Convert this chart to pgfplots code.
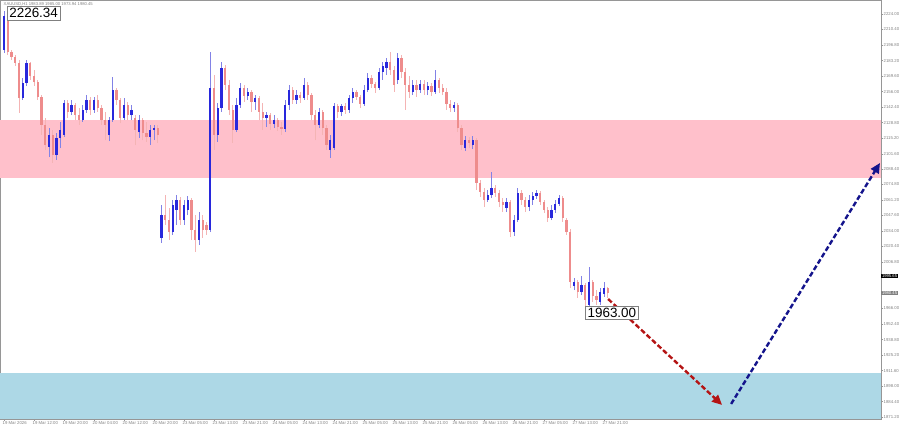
\documentclass[border=0pt]{standalone}
\usepackage{fontspec}
\setmainfont{Liberation Sans}
\usepackage{pgfplots}
\usepackage{pgfplotstable}
\pgfplotsset{compat=1.18}
\usetikzlibrary{arrows.meta}
\definecolor{upbody}{RGB}{40,40,220}
\definecolor{upwick}{RGB}{130,130,230}
\definecolor{dnbody}{RGB}{238,140,140}
\definecolor{dnwick}{RGB}{244,180,180}
\definecolor{zonepink}{RGB}{255,192,203}
\definecolor{zoneblue}{RGB}{173,216,230}
\definecolor{arrred}{RGB}{180,20,20}
\definecolor{arrblue}{RGB}{20,20,140}
\definecolor{axgray}{RGB}{150,150,150}

\pgfplotstableread{
i o h l c
0 2192.5 2226.34 2189.8 2222.2
5 2150.4 2167.9 2148.7 2163.6
6 2163.6 2183.7 2160.9 2181.1
12 2107.5 2124.1 2098.7 2118.0
14 2100.5 2119.8 2096.1 2115.4
15 2115.4 2129.4 2106.6 2122.4
16 2118.0 2148.7 2116.3 2146.0
18 2138.2 2148.7 2135.5 2144.3
21 2131.1 2144.3 2129.4 2139.9
22 2139.9 2153.0 2137.3 2148.7
24 2139.9 2151.3 2137.3 2148.7
28 2118.0 2133.8 2112.7 2131.1
29 2131.1 2168.8 2129.4 2157.4
32 2132.9 2150.4 2131.1 2144.3
34 2135.5 2144.3 2131.1 2139.9
36 2120.6 2135.5 2115.4 2131.1
39 2116.3 2126.8 2109.2 2122.4
40 2122.4 2126.8 2113.6 2124.1
42 2027.8 2056.7 2023.4 2047.9
45 2033.0 2061.1 2030.4 2056.7
46 2052.3 2065.4 2039.2 2061.1
48 2043.5 2061.1 2039.2 2056.7
49 2052.3 2064.6 2047.9 2061.1
52 2026.0 2050.5 2021.6 2043.5
55 2034.8 2190.7 2033.0 2159.2
57 2118.0 2146.0 2111.9 2141.7
58 2141.7 2182.0 2138.2 2176.7
62 2122.4 2150.4 2120.6 2144.3
63 2144.3 2163.6 2141.7 2159.2
65 2152.2 2159.2 2148.7 2155.7
67 2146.9 2153.0 2139.9 2150.4
70 2132.9 2138.2 2125.0 2135.5
72 2127.6 2135.5 2124.1 2131.1
75 2123.3 2148.7 2120.6 2144.3
76 2144.3 2161.8 2139.9 2157.4
78 2148.7 2157.4 2145.2 2153.0
80 2150.4 2167.9 2148.7 2161.8
84 2126.8 2141.7 2124.1 2138.2
87 2104.9 2118.0 2097.9 2113.6
88 2106.6 2146.0 2104.9 2143.4
90 2138.2 2145.2 2134.6 2143.4
92 2139.9 2153.0 2137.3 2150.4
93 2150.4 2159.2 2146.0 2155.7
96 2145.2 2161.8 2143.4 2157.4
97 2157.4 2172.3 2155.7 2167.9
100 2159.2 2176.7 2157.4 2173.2
101 2173.2 2182.0 2166.2 2178.4
102 2176.7 2185.5 2170.6 2182.0
105 2166.2 2189.8 2162.7 2185.5
109 2155.7 2166.2 2153.0 2161.8
111 2157.4 2166.2 2154.8 2162.7
113 2157.4 2164.4 2153.0 2160.9
115 2155.7 2174.9 2153.9 2166.2
120 2141.7 2146.9 2138.2 2144.3
123 2106.6 2117.1 2104.0 2113.6
125 2109.2 2117.1 2105.7 2113.6
129 2061.1 2069.8 2059.3 2065.4
130 2065.4 2085.6 2062.8 2071.6
134 2054.1 2062.8 2050.5 2059.3
136 2033.0 2047.9 2029.5 2043.5
137 2043.5 2071.6 2041.8 2067.2
140 2054.9 2065.4 2051.4 2061.1
141 2061.1 2068.1 2056.7 2064.6
142 2064.6 2069.8 2061.9 2067.2
146 2045.3 2056.7 2043.5 2052.3
147 2052.3 2061.1 2049.7 2057.6
148 2057.6 2065.4 2055.8 2062.8
152 1985.7 1992.7 1982.2 1989.2
154 1980.5 1994.5 1977.8 1986.6
156 1969.1 2002.4 1966.4 1989.2
159 1971.7 1984.0 1969.1 1980.5
160 1978.7 1989.2 1976.1 1984.0
}\upbars

\pgfplotstableread{
i o h l c
1 2220.5 2223.1 2188.1 2190.7
2 2190.7 2192.5 2183.7 2186.3
3 2186.3 2188.1 2178.4 2181.1
4 2181.1 2183.7 2137.3 2150.4
7 2181.1 2182.0 2166.2 2169.7
8 2169.7 2174.9 2160.9 2164.4
9 2164.4 2166.2 2148.7 2151.3
10 2151.3 2153.0 2118.0 2126.8
11 2126.8 2132.9 2104.9 2109.2
13 2118.0 2122.4 2093.5 2100.5
17 2146.0 2148.7 2132.9 2138.2
19 2144.3 2146.0 2131.1 2135.5
20 2135.5 2141.7 2126.8 2131.1
23 2148.7 2151.3 2135.5 2139.9
25 2148.7 2153.0 2138.2 2141.7
26 2141.7 2144.3 2126.8 2131.1
27 2131.1 2138.2 2113.6 2126.8
30 2157.4 2159.2 2144.3 2148.7
31 2148.7 2150.4 2128.5 2132.9
33 2144.3 2146.9 2131.1 2135.5
35 2132.9 2135.5 2109.2 2122.4
37 2131.1 2132.9 2113.6 2119.8
38 2119.8 2129.4 2111.9 2116.3
41 2124.1 2126.8 2111.0 2118.0
43 2047.9 2065.4 2039.2 2043.5
44 2043.5 2054.1 2026.0 2033.0
47 2061.1 2063.7 2039.2 2043.5
50 2061.1 2062.8 2026.0 2034.8
51 2034.8 2047.9 2015.5 2026.0
53 2043.5 2047.9 2027.8 2034.8
54 2039.2 2041.8 2030.4 2034.8
56 2159.2 2170.6 2104.9 2118.0
59 2176.7 2179.3 2157.4 2161.8
60 2161.8 2166.2 2135.5 2139.9
61 2139.9 2144.3 2111.0 2122.4
64 2159.2 2161.8 2146.9 2152.2
66 2155.7 2157.4 2138.2 2146.9
68 2150.4 2152.2 2131.1 2138.2
69 2138.2 2146.0 2122.4 2132.9
71 2135.5 2137.3 2122.4 2127.6
73 2131.1 2132.9 2121.5 2125.0
74 2125.0 2129.4 2118.0 2123.3
77 2157.4 2160.0 2145.2 2148.7
79 2153.0 2155.7 2146.0 2150.4
81 2161.8 2164.4 2148.7 2153.0
82 2153.0 2154.8 2131.1 2135.5
83 2135.5 2139.9 2113.6 2126.8
85 2138.2 2139.9 2118.0 2124.1
86 2124.1 2126.8 2104.9 2109.2
89 2143.4 2145.2 2132.9 2138.2
91 2143.4 2146.0 2136.4 2139.9
94 2155.7 2157.4 2148.7 2151.3
95 2151.3 2153.0 2141.7 2145.2
98 2167.9 2170.6 2159.2 2162.7
99 2162.7 2164.4 2154.8 2159.2
103 2182.0 2190.7 2170.6 2174.9
104 2174.9 2178.4 2155.7 2161.8
106 2185.5 2188.1 2167.9 2173.2
107 2173.2 2176.7 2139.9 2161.8
108 2161.8 2169.7 2150.4 2155.7
110 2161.8 2166.2 2151.3 2157.4
112 2162.7 2166.2 2153.0 2157.4
114 2160.9 2163.6 2152.2 2155.7
116 2166.2 2167.9 2154.8 2159.2
117 2159.2 2162.7 2153.0 2155.7
118 2155.7 2159.2 2139.9 2145.2
119 2145.2 2148.7 2138.2 2141.7
121 2144.3 2146.0 2120.6 2124.1
122 2124.1 2126.8 2104.9 2109.2
124 2113.6 2116.3 2106.6 2111.0
126 2113.6 2115.4 2069.8 2076.0
127 2076.0 2078.6 2063.7 2068.1
128 2068.1 2071.6 2054.9 2061.1
131 2071.6 2074.2 2063.7 2067.2
132 2067.2 2069.8 2054.9 2059.3
133 2059.3 2062.8 2050.5 2056.7
135 2059.3 2061.1 2028.6 2033.0
138 2067.2 2069.8 2056.7 2061.1
139 2061.1 2063.7 2050.5 2054.9
143 2067.2 2068.9 2056.7 2059.3
144 2059.3 2061.1 2049.7 2052.3
145 2052.3 2054.9 2041.8 2045.3
149 2062.8 2064.6 2041.8 2045.3
150 2043.5 2045.3 2030.4 2033.0
151 2033.0 2035.7 1984.0 1989.2
153 1989.2 1991.0 1975.2 1980.5
155 1986.6 1988.4 1963.0 1973.5
157 1989.2 1991.0 1971.7 1977.0
158 1977.0 1982.2 1969.1 1973.5
161 1984.0 1984.8 1975.2 1979.6
}\downbars

\begin{document}
\begin{tikzpicture}
\useasboundingbox (0,-10bp) rectangle (900bp,419bp);
\begin{axis}[
  at={(0,0)}, anchor=south west,
  width=881bp, height=419bp, scale only axis,
  xmin=-1.07, xmax=233.87, ymin=1869.2, ymax=2236.26,
  clip=false,
  axis line style={axgray, line width=0.6bp},
  tick style={axgray, line width=0.4bp},
  major tick length=2bp,
  tick align=outside,
  xtick pos=left, ytick pos=right,
  xticklabel pos=left, yticklabel pos=right,
  xtick={0,8,...,160},
  xticklabels={19 Mar 2026,19 Mar 12:00,19 Mar 20:00,20 Mar 04:00,20 Mar 12:00,20 Mar 20:00,23 Mar 05:00,23 Mar 13:00,23 Mar 21:00,24 Mar 05:00,24 Mar 13:00,24 Mar 21:00,25 Mar 05:00,25 Mar 13:00,25 Mar 21:00,26 Mar 05:00,26 Mar 13:00,26 Mar 21:00,27 Mar 05:00,27 Mar 13:00,27 Mar 21:00},
  xticklabel style={anchor=north west, xshift=-2.5bp, yshift=1bp, inner sep=1bp, font=\fontsize{4.3}{5}\selectfont, text=gray},
  ytick={2224,2210.4,2196.8,2183.2,2169.6,2156,2142.4,2128.8,2115.2,2101.6,2088.4,2074.8,2061.2,2047.6,2034,2020.4,2006.8,1966,1952.4,1938.8,1925.2,1911.6,1898,1884.4,1871.2},
  yticklabels={2224.00,2210.40,2196.80,2183.20,2169.60,2156.00,2142.40,2128.80,2115.20,2101.60,2088.40,2074.80,2061.20,2047.60,2034.00,2020.40,2006.80,1966.00,1952.40,1938.80,1925.20,1911.60,1898.00,1884.40,1871.20},
  yticklabel style={anchor=west, xshift=-0.5bp, inner sep=1bp, font=\fontsize{4.3}{5}\selectfont, text=gray},
]
% zones
\addplot[fill=zonepink, draw=none, forget plot] coordinates {(-1.07,2080.3) (233.87,2080.3) (233.87,2131.1) (-1.07,2131.1)} -- cycle;
\addplot[fill=zoneblue, draw=none, forget plot] coordinates {(-1.07,1869.2) (233.87,1869.2) (233.87,1909.5) (-1.07,1909.5)} -- cycle;
% down bars
\addplot[draw=none, mark=none, forget plot, error bars/.cd, y dir=plus, y explicit, error mark=none, error bar style={draw=dnwick, line width=0.9bp, solid}]
  table[x=i, y=l, y error plus expr=\thisrow{h}-\thisrow{l}] {\downbars};
\addplot[draw=none, mark=none, forget plot, error bars/.cd, y dir=plus, y explicit, error mark=none, error bar style={draw=dnbody, line width=2.2bp, solid}]
  table[x=i, y=c, y error plus expr=\thisrow{o}-\thisrow{c}] {\downbars};
% up bars
\addplot[draw=none, mark=none, forget plot, error bars/.cd, y dir=plus, y explicit, error mark=none, error bar style={draw=upwick, line width=0.9bp, solid}]
  table[x=i, y=l, y error plus expr=\thisrow{h}-\thisrow{l}] {\upbars};
\addplot[draw=none, mark=none, forget plot, error bars/.cd, y dir=plus, y explicit, error mark=none, error bar style={draw=upbody, line width=2.2bp, solid}]
  table[x=i, y=o, y error plus expr=\thisrow{c}-\thisrow{o}] {\upbars};
% arrows
\addplot[arrred, line width=2.4bp, dash pattern=on 5bp off 2.5bp, -{Triangle[length=10bp,width=9bp]}, forget plot] coordinates {(161.1,1974.3) (191.5,1881.5)};
\addplot[arrblue, line width=2.4bp, dash pattern=on 5bp off 2.5bp, -{Triangle[length=10bp,width=9bp]}, forget plot] coordinates {(193.9,1882.4) (233.6,2093.5)};
% texts
\node[anchor=north west, inner sep=0pt, font=\fontsize{4.2}{5}\selectfont, text=gray] at (rel axis cs:0.004,0.995) {XAUUSD,H1 1983.89 1985.00 1973.94 1980.45};
\node[draw=gray, fill=white, inner sep=2bp, font=\fontsize{13.5}{14}\selectfont] at (axis cs:7.9,2224.9) {2226.34};
\node[draw=gray, fill=white, inner sep=2bp, font=\fontsize{13.5}{14}\selectfont] at (axis cs:162.1,1962.5) {1963.00};
\node[anchor=west, fill=black, text=white, inner sep=0.8bp, font=\fontsize{4.2}{5}\selectfont] at (axis cs:233.87,1994.5) {1995.65};
\node[anchor=west, fill=gray, text=white, inner sep=0.8bp, font=\fontsize{4.2}{5}\selectfont] at (axis cs:233.87,1979.6) {1980.45};
\end{axis}
\end{tikzpicture}
\end{document}
